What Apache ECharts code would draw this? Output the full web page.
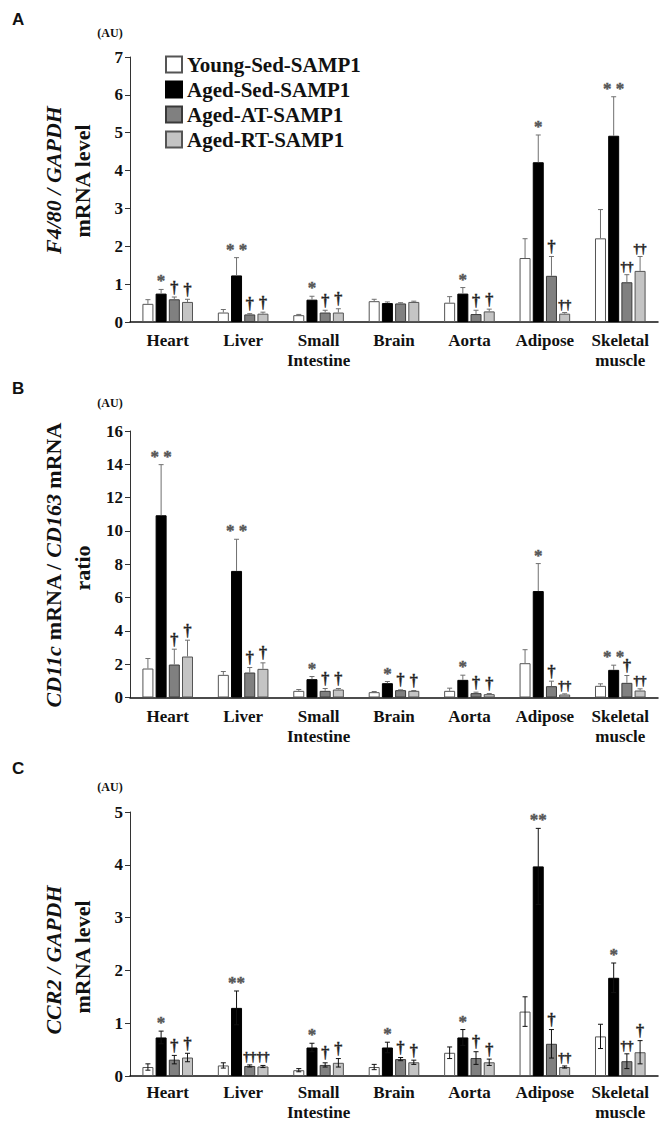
<!DOCTYPE html>
<html><head><meta charset="utf-8">
<script src="https://cdn.jsdelivr.net/npm/echarts@6/dist/echarts.min.js"></script>
<style>html,body{margin:0;padding:0;background:#fff}#c{width:661px;height:1122px}</style>
</head><body><div id="c"></div><script>
// ---------- data ----------
const categories = ['Heart', 'Liver', 'Small\nIntestine', 'Brain', 'Aorta', 'Adipose', 'Skeletal\nmuscle'];
const seriesNames = ['Young-Sed-SAMP1', 'Aged-Sed-SAMP1', 'Aged-AT-SAMP1', 'Aged-RT-SAMP1'];

// Panel A: F4/80 / GAPDH mRNA level
const youngA = [0.48, 0.25, 0.18, 0.55, 0.51, 1.69, 2.21];
const sedA   = [0.75, 1.23, 0.59, 0.50, 0.75, 4.22, 4.92];
const atA    = [0.60, 0.20, 0.25, 0.49, 0.21, 1.22, 1.05];
const rtA    = [0.53, 0.22, 0.25, 0.53, 0.28, 0.22, 1.35];
const youngAErr = [0.11, 0.08, 0.02, 0.05, 0.16, 0.51, 0.76];
const sedAErr   = [0.11, 0.47, 0.09, 0.03, 0.16, 0.72, 1.03];
const atAErr    = [0.06, 0.02, 0.06, 0.02, 0.10, 0.51, 0.20];
const rtAErr    = [0.07, 0.04, 0.10, 0.02, 0.06, 0.03, 0.38];
const sedAMark = ['*', '* *', '*', '', '*', '*', '* *'];
const atAMark  = ['†', '†', '†', '', '†', '†', '††'];
const rtAMark  = ['†', '†', '†', '', '†', '††', '††'];

// Panel B: CD11c mRNA / CD163 mRNA ratio
const youngB = [1.74, 1.36, 0.40, 0.32, 0.40, 2.06, 0.70];
const sedB   = [10.94, 7.60, 1.10, 0.86, 1.06, 6.39, 1.66];
const atB    = [1.98, 1.50, 0.40, 0.44, 0.26, 0.68, 0.88];
const rtB    = [2.46, 1.72, 0.48, 0.40, 0.20, 0.18, 0.42];
const youngBErr = [0.60, 0.20, 0.08, 0.04, 0.16, 0.81, 0.12];
const sedBErr   = [3.04, 1.90, 0.16, 0.10, 0.28, 1.65, 0.28];
const atBErr    = [0.92, 0.30, 0.14, 0.02, 0.06, 0.30, 0.44];
const rtBErr    = [0.98, 0.36, 0.06, 0.02, 0.04, 0.04, 0.10];
const sedBMark = ['* *', '* *', '*', '*', '*', '*', '* *'];
const atBMark  = ['†', '†', '†', '†', '†', '†', '†'];
const rtBMark  = ['†', '†', '†', '†', '†', '††', '††'];

// Panel C: CCR2 / GAPDH mRNA level
const youngC = [0.17, 0.20, 0.11, 0.17, 0.44, 1.22, 0.75];
const sedC   = [0.73, 1.29, 0.54, 0.54, 0.73, 3.97, 1.86];
const atC    = [0.31, 0.19, 0.21, 0.32, 0.34, 0.61, 0.28];
const rtC    = [0.35, 0.18, 0.25, 0.26, 0.26, 0.17, 0.45];
const youngCErr = [0.06, 0.05, 0.03, 0.05, 0.11, 0.28, 0.23];
const sedCErr   = [0.12, 0.32, 0.08, 0.10, 0.15, 0.72, 0.28];
const atCErr    = [0.08, 0.02, 0.04, 0.03, 0.12, 0.27, 0.14];
const rtCErr    = [0.08, 0.02, 0.08, 0.04, 0.06, 0.02, 0.22];
const sedCMark = ['*', '**', '*', '*', '*', '**', '*'];
const atCMark  = ['†', '††', '†', '†', '†', '†', '††'];
const rtCMark  = ['†', '††', '†', '†', '†', '††', '†'];

const yTicksA = {max: 7, interval: 1};
const yTicksB = {max: 16, interval: 2};
const yTicksC = {max: 5, interval: 1};

// ---------- layout / style ----------
const SERIF = 'Liberation Serif';
const SANS = 'Liberation Sans';
const fills = ['#ffffff', '#000000', '#808080', '#c4c4c4'];
const borders = ['#555555', '#000000', '#3a3a3a', '#555555'];
const BAR_W = 11, GAP = 2.2;

const panels = [
  {means: [youngA, sedA, atA, rtA], errs: [youngAErr, sedAErr, atAErr, rtAErr], marks: [null, sedAMark, atAMark, rtAMark],
   ticks: yTicksA, top: 57, height: 265, twoSided: false, labelMargin: 8},
  {means: [youngB, sedB, atB, rtB], errs: [youngBErr, sedBErr, atBErr, rtBErr], marks: [null, sedBMark, atBMark, rtBMark],
   ticks: yTicksB, top: 431, height: 266.5, twoSided: false, labelMargin: 9},
  {means: [youngC, sedC, atC, rtC], errs: [youngCErr, sedCErr, atCErr, rtCErr], marks: [null, sedCMark, atCMark, rtCMark],
   ticks: yTicksC, top: 812, height: 268, twoSided: true, labelMargin: 6}
];

const grids = [], xAxes = [], yAxes = [], series = [];
panels.forEach((p, pi) => {
  grids.push({left: 130, width: 528, top: p.top, height: p.height, containLabel: false});
  xAxes.push({gridIndex: pi, type: 'category', data: categories,
    axisLine: {lineStyle: {color: '#111', width: 1.5}}, axisTick: {show: false},
    axisLabel: {interval: 0, fontFamily: SERIF, fontWeight: 'bold', fontSize: 17, color: '#111',
      margin: p.labelMargin, lineHeight: 20}});
  yAxes.push({gridIndex: pi, type: 'value', min: 0, max: p.ticks.max, interval: p.ticks.interval,
    splitLine: {show: false},
    axisLine: {show: true, lineStyle: {color: '#333', width: 1}},
    axisTick: {show: true, length: 5, lineStyle: {color: '#333'}},
    axisLabel: {fontFamily: SERIF, fontWeight: 'bold', fontSize: 17, color: '#111', margin: 7}});
  for (let k = 0; k < 4; k++) {
    series.push({type: 'bar', name: seriesNames[k], xAxisIndex: pi, yAxisIndex: pi,
      data: p.means[k], barWidth: BAR_W, barGap: (GAP / BAR_W * 100) + '%',
      itemStyle: {color: fills[k], borderColor: borders[k], borderWidth: 1},
      emphasis: {disabled: true}, silent: true, z: 2});
  }
  for (let k = 0; k < 4; k++) {
    const marks = p.marks[k];
    const errData = p.means[k].map((m, i) => [i, m, p.errs[k][i]]);
    series.push({type: 'custom', xAxisIndex: pi, yAxisIndex: pi, data: errData, z: 5, silent: true, clip: false,
      itemStyle: {color: '#333'},
      renderItem: function (params, api) {
        const i = api.value(0), m = api.value(1), e = api.value(2);
        const off = (k - 1.5) * (BAR_W + GAP);
        const pm = api.coord([i, m]);
        const pt = api.coord([i, m + e]);
        const pb = api.coord([i, Math.max(m - e, 0)]);
        const x = pm[0] + off;
        const col = p.twoSided ? '#111' : '#707070';
        const children = [];
        children.push({type: 'line', shape: {x1: x, y1: p.twoSided ? pb[1] : pm[1], x2: x, y2: pt[1]},
          style: {stroke: col, lineWidth: 1}});
        children.push({type: 'line', shape: {x1: x - 2.5, y1: pt[1], x2: x + 2.5, y2: pt[1]},
          style: {stroke: col, lineWidth: 1}});
        if (p.twoSided) {
          children.push({type: 'line', shape: {x1: x - 2.5, y1: pb[1], x2: x + 2.5, y2: pb[1]},
            style: {stroke: col, lineWidth: 1}});
        }
        const t = marks ? marks[params.dataIndex] : '';
        if (t) {
          const isStar = t.indexOf('*') >= 0;
          const fs = isStar ? 17 : (t.length > 1 ? 13 : 16);
          const c = isStar ? '#555555' : '#222222';
          children.push({type: 'text', x: x, y: pt[1] - (isStar ? 0 : 2),
            style: {text: t, fontFamily: SERIF, fontSize: fs, fontWeight: 'bold',
              fill: c, stroke: c, lineWidth: 0.4, align: 'center', verticalAlign: 'bottom'}});
        }
        return {type: 'group', children: children};
      }});
  }
});

function yTitle(x, y, text, rich) {
  return {type: 'text', x: x, y: y, rotation: Math.PI / 2,
    style: {text: text, rich: rich, fontFamily: SERIF, fontWeight: 'bold', fontSize: 22, fill: '#111',
      align: 'center', verticalAlign: 'middle'}};
}
const richI = {i: {fontFamily: SERIF, fontWeight: 'bold', fontStyle: 'italic', fontSize: 22, fill: '#111'},
               n: {fontFamily: SERIF, fontWeight: 'bold', fontSize: 22, fill: '#111'}};

const graphics = [
  {type: 'text', left: 12, top: 11, style: {text: 'A', fontFamily: SANS, fontWeight: 'bold', fontSize: 17, fill: '#111'}},
  {type: 'text', left: 12, top: 380, style: {text: 'B', fontFamily: SANS, fontWeight: 'bold', fontSize: 17, fill: '#111'}},
  {type: 'text', left: 12, top: 760, style: {text: 'C', fontFamily: SANS, fontWeight: 'bold', fontSize: 17, fill: '#111'}},
  {type: 'text', x: 110, y: 33, style: {text: '(AU)', fontFamily: SERIF, fontWeight: 'bold', fontSize: 12, fill: '#111', align: 'center', verticalAlign: 'middle'}},
  {type: 'text', x: 110, y: 403, style: {text: '(AU)', fontFamily: SERIF, fontWeight: 'bold', fontSize: 12, fill: '#111', align: 'center', verticalAlign: 'middle'}},
  {type: 'text', x: 110, y: 787, style: {text: '(AU)', fontFamily: SERIF, fontWeight: 'bold', fontSize: 12, fill: '#111', align: 'center', verticalAlign: 'middle'}},
  yTitle(53, 180, '{i|F4/80 / GAPDH}', richI),
  yTitle(82, 181, 'mRNA level', null),
  yTitle(53, 565, '{i|CD11c}{n| mRNA / }{i|CD163}{n| mRNA}', richI),
  yTitle(82, 568, 'ratio', null),
  yTitle(53, 960, '{i|CCR2 / GAPDH}', richI),
  yTitle(82, 957, 'mRNA level', null)
];

const chart = echarts.init(document.getElementById('c'), null, {renderer: 'svg'});
chart.setOption({
  animation: false,
  backgroundColor: '#fff',
  grid: grids, xAxis: xAxes, yAxis: yAxes, series: series,
  legend: {data: seriesNames, orient: 'vertical', left: 160, top: 49, itemWidth: 16, itemHeight: 16, itemGap: 4,
    icon: 'rect', selectedMode: false,
    textStyle: {fontFamily: SERIF, fontWeight: 'bold', fontSize: 21, color: '#111', lineHeight: 21}},
  graphic: graphics
});
</script></body></html>
